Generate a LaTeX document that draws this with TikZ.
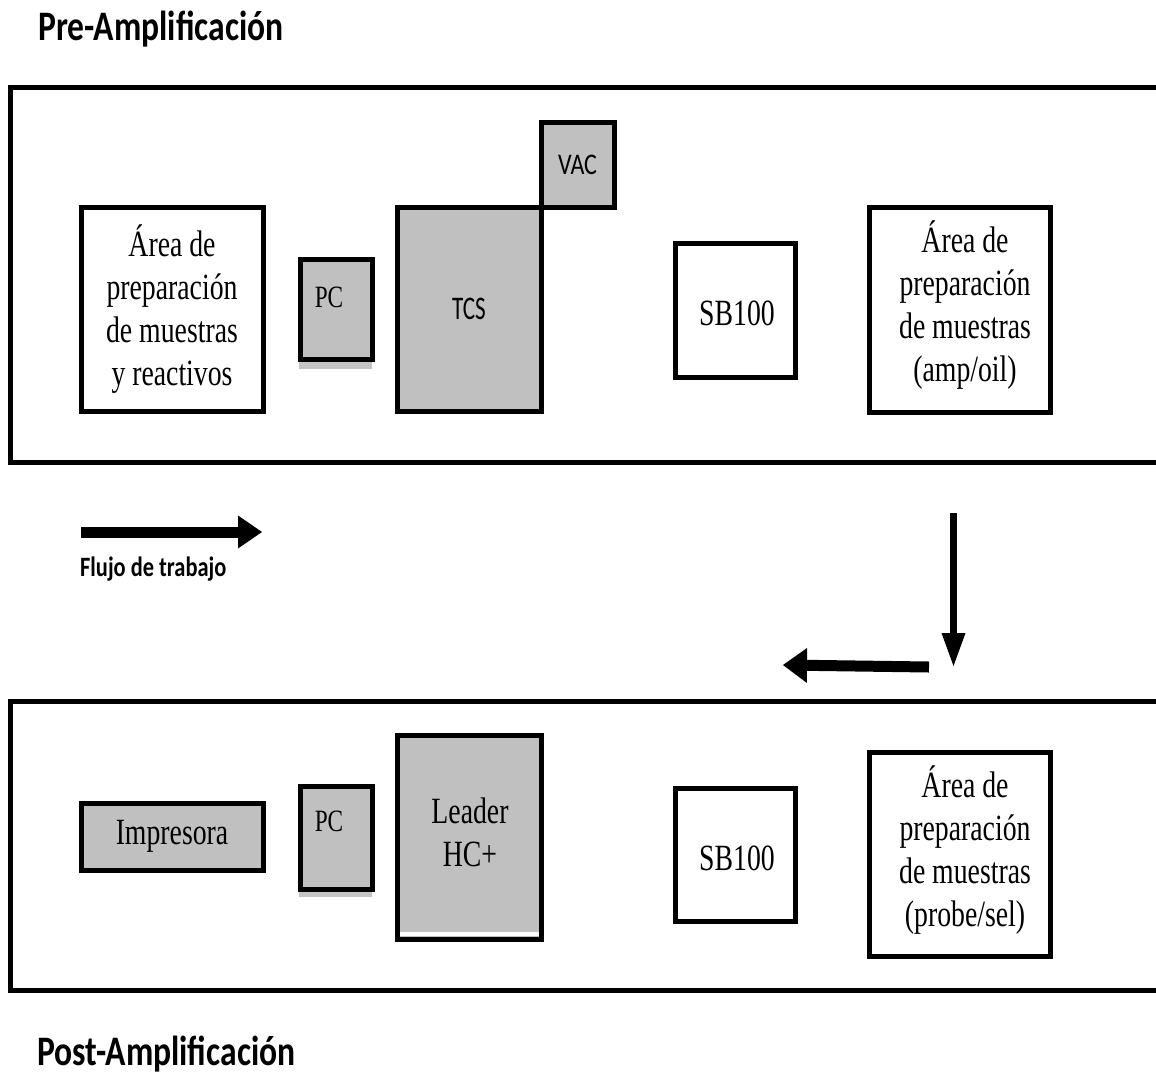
\documentclass[tikz,border=0pt]{standalone}
\usepackage{fontspec}
\usetikzlibrary{arrows.meta}
\newfontfamily\boxfont[FakeStretch=0.75]{Liberation Serif}
\newfontfamily\sansbox[FakeStretch=0.7]{Carlito}
\newfontfamily\titlefont[FakeStretch=0.8]{Carlito}
\definecolor{boxgray}{HTML}{C0C0C0}
\definecolor{shadegray}{HTML}{C4C4C4}
\tikzset{
  area/.style={draw, line width=5pt, rectangle, inner sep=0pt},
  whitebox/.style={area, fill=white},
  graybox/.style={area, fill=boxgray},
  serif/.style={font=\boxfont\fontsize{37}{43}\selectfont, align=center, inner sep=0pt},
  small serif/.style={font=\boxfont\fontsize{31}{40}\selectfont, inner sep=0pt},
  title/.style={font=\titlefont\bfseries\fontsize{42}{46}\selectfont, inner sep=0pt, anchor=base west},
  flowarrow/.style={line width=#1, line cap=butt},
}
\begin{document}
\begin{tikzpicture}[x=1pt,y=-1pt]
\useasboundingbox[fill=white] (0,0) rectangle (1156,1074);

% titles
\node[title] (pre) at (38,40) {Pre-Amplificación};
\node[title] (post) at (37,1065) {Post-Amplificación};

% zone frames (open to the right)
\draw[line width=5pt] (1162,87) -- (10,87) -- (10,462) -- (1162,462);
\draw[line width=5pt] (1162,701) -- (10,701) -- (10,990) -- (1162,990);

% ---- Pre-amplification zone ----
\node[whitebox, serif, minimum width=182pt, minimum height=204pt] (areaL) at (172,309)
  {Área de\\preparación\\de muestras\\y reactivos};
\fill[shadegray] (299,361) rectangle (372,369);
\node[graybox, minimum width=72pt, minimum height=100pt] (pc1) at (336,309) {};
\node[small serif] (pc1t) at (329,297) {PC};
\node[graybox, minimum width=144pt, minimum height=204pt,
      font=\sansbox\fontsize{33}{40}\selectfont] (tcs) at (469,309) {TCS};
\node[graybox, minimum width=73pt, minimum height=85pt,
      font=\titlefont\fontsize{30}{34}\selectfont] (vac) at (577.5,164.5) {VAC};
\node[whitebox, minimum width=120pt, minimum height=134pt] (sb1) at (735,310) {};
\node[serif] (sb1t) at (737,313) {SB100};
\node[whitebox, minimum width=181pt, minimum height=205pt] (areaR) at (959.5,309.5) {};
\node[serif] (areaRt) at (965,305) {Área de\\preparación\\de muestras\\(amp/oil)};

% ---- arrows ----
\coordinate (f1) at (81,532);
\coordinate (f2) at (262,532);
\draw[flowarrow=11pt, -{Triangle[width=33pt,length=24pt,line width=0pt]}] (f1) -- (f2);
\node[font=\titlefont\bfseries\fontsize{28}{32}\selectfont, inner sep=0pt, anchor=base west] (flujo) at (80,576) {Flujo de trabajo};

\coordinate (d1) at (953.5,513);
\coordinate (d2) at (953.5,666);
\draw[flowarrow=7pt, -{Triangle[width=24pt,length=33pt,line width=0pt]}] (d1) -- (d2);

\coordinate (l1) at (929,667);
\coordinate (l2) at (783,665);
\draw[flowarrow=11pt, -{Triangle[width=35pt,length=24pt,line width=0pt]}] (l1) -- (l2);

% ---- Post-amplification zone ----
\node[graybox, serif, minimum width=182pt, minimum height=67pt] (imp) at (172,836.5) {Impresora};
\fill[shadegray] (299,891) rectangle (372,897);
\node[graybox, minimum width=72pt, minimum height=103pt] (pc2) at (336,837.5) {};
\node[small serif] (pc2t) at (329,821) {PC};
\node[graybox, minimum width=144pt, minimum height=204pt] (leader) at (469,837) {};
\fill[white] (399.5,931.5) rectangle (538.5,935.5);
\node[serif] (leadert) at (470,832) {Leader\\HC+};
\node[whitebox, minimum width=120pt, minimum height=133pt] (sb2) at (735,854.5) {};
\node[serif] (sb2t) at (737,858) {SB100};
\node[whitebox, minimum width=181pt, minimum height=204pt] (areaB) at (959.5,854) {};
\node[serif] (areaBt) at (965,850) {Área de\\preparación\\de muestras\\(probe/sel)};
\end{tikzpicture}
\end{document}
